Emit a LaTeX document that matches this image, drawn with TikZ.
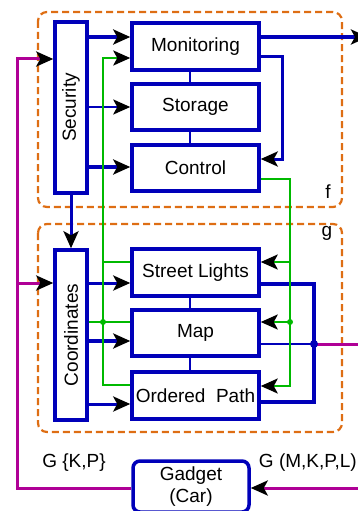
\documentclass[tikz,border=0pt]{standalone}
\usepackage{fontspec}
\setmainfont{Liberation Sans}
\usetikzlibrary{arrows.meta}
\definecolor{bl}{RGB}{0,0,185}
\definecolor{gr}{RGB}{0,185,0}
\definecolor{mg}{RGB}{175,0,150}
\definecolor{orz}{RGB}{222,110,20}
\begin{document}
\begin{tikzpicture}[x=1pt,y=-1pt,
  txt/.style={font=\fontsize{19}{22}\selectfont},
  box/.style={draw=bl,line width=3.5pt,fill=white,txt,inner sep=0pt},
  grp/.style={draw=orz,line width=2.2pt,dash pattern=on 7pt off 4pt,rounded corners=9pt},
  tip/.style={-{Stealth[black,length=17pt,width=15pt,inset=4pt]}},
  bw/.style={draw=bl,line width=3pt},
  gw/.style={draw=gr,line width=2.5pt},
  mw/.style={draw=mg,line width=3pt},
  lbl/.style={txt,inner sep=0pt}]
\useasboundingbox (0,0) rectangle (358,511);
% groups
\draw[grp] (38,12) rectangle (342,207);
\draw[grp] (38,224) rectangle (342,432);
\node[lbl] (f) at (328,192) {f};
\node[lbl] (g) at (327,233) {g};
% nodes
\node[box,minimum width=32pt,minimum height=171pt] (sec) at (71,107.5) {\rotatebox{90}{Security}};
\node[box,minimum width=127pt,minimum height=47pt] (mon) at (195.5,46.5) {Monitoring};
\node[box,minimum width=127pt,minimum height=46pt] (sto) at (195.5,107) {Storage};
\node[box,minimum width=127pt,minimum height=46pt] (con) at (195.5,168) {Control};
\node[box,minimum width=32pt,minimum height=170pt] (coo) at (71,335) {\rotatebox{90}{Coordinates}};
\node[box,minimum width=127pt,minimum height=47pt] (sl) at (195.5,272.5) {Street Lights};
\node[box,minimum width=127pt,minimum height=46pt] (map) at (195.5,333) {Map};
\node[box,minimum width=127pt,minimum height=47pt] (op) at (195.5,395.5) {Ordered\ \ Path};
\node[box,rounded corners=7pt,minimum width=116pt,minimum height=51pt,align=center] (gad) at (191,486.5) {Gadget\\(Car)};
\coordinate (outA) at (368,37);
\coordinate (outB) at (366,344);
\coordinate (outC) at (366,488);
% labels
\node[lbl] (gkp) at (74,463) {G \{K,P\}};
\node[lbl,anchor=east] (gmkpl) at (357,463) {G (M,K,P,L)};
% blue connectors
\draw[bw,line width=3.5pt,tip] (sec.east |- 0,37) -- (mon.west |- 0,37);
\draw[bw,line width=2.5pt,tip] (sec.east |- 0,107) -- (sto.west |- 0,107);
\draw[bw,line width=3.5pt,tip] (sec.east |- 0,167) -- (con.west |- 0,167);
\draw[bw,line width=3.5pt,tip] (mon.east |- 0,37) -- (outA);
\draw[bw,tip] (mon.east |- 0,57) -- (282,57) -- (282,159) -- (con.east |- 0,159);
\draw[bw,line width=2.5pt] (mon.south -| 190,0) -- (sto.north -| 190,0);
\draw[bw,line width=2.5pt] (sto.south -| 190,0) -- (con.north -| 190,0);
\draw[bw,tip] (sec.south) -- (coo.north);
\draw[bw,tip] (coo.east |- 0,283) -- (sl.west |- 0,283);
\draw[bw,line width=3.5pt,tip] (coo.east |- 0,341) -- (map.west |- 0,341);
\draw[bw,tip] (coo.east |- 0,404) -- (op.west |- 0,404);
\draw[bw,line width=2.5pt] (sl.south -| 190,0) -- (map.north -| 190,0);
\draw[bw,line width=2.5pt] (map.south -| 190,0) -- (op.north -| 190,0);
\draw[bw,line width=3.5pt] (sl.east |- 0,284) -- (314,284) -- (314,402) -- (op.east |- 0,402);
\draw[bw,line width=2.5pt] (map.east |- 0,344) -- (314,344);
% green connectors
\draw[gw,tip] (op.west |- 0,385) -- (103,385) -- (103,58) -- (mon.west |- 0,58);
\draw[gw] (sl.west |- 0,262) -- (103,262);
\draw[gw] (coo.east |- 0,322) -- (map.west |- 0,322);
\fill[gr] (103,322) circle (3pt);
\draw[gw,tip] (con.east |- 0,179) -- (290,179) -- (290,386) -- (op.east |- 0,386);
\draw[gw,tip] (290,262) -- (sl.east |- 0,262);
\draw[gw,tip] (290,322) -- (map.east |- 0,322);
\fill[gr] (290,322) circle (3pt);
% magenta connectors
\draw[mw,tip] (gad.west |- 0,488) -- (17,488) -- (17,59) -- (sec.west |- 0,59);
\draw[mw,tip] (17,283) -- (coo.west |- 0,283);
\draw[mw] (314,344) -- (outB);
\draw[mw,tip] (outC) -- (gad.east |- 0,488);
\fill[bl] (314,344) circle (4pt);
\end{tikzpicture}
\end{document}
